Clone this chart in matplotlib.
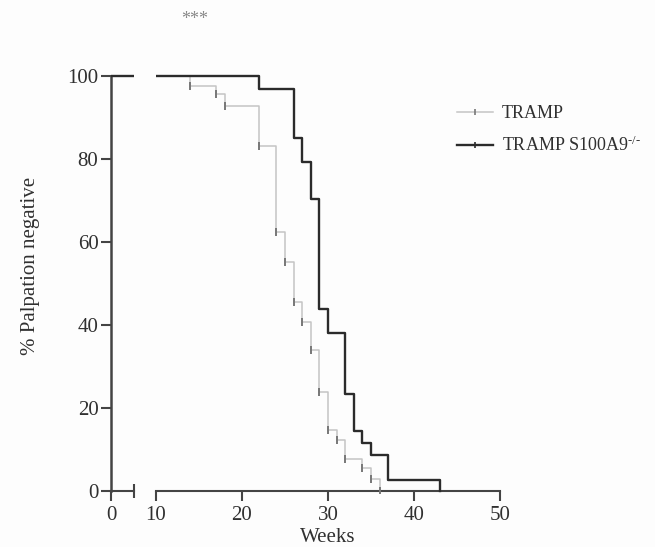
import numpy as np
import matplotlib
matplotlib.use('Agg')
import matplotlib.pyplot as plt
from matplotlib.lines import Line2D

# Kaplan-Meier style steps (weeks, % palpation negative)
tramp_weeks = [14, 17, 18, 22, 24, 25, 26, 27, 28, 29, 30, 31, 32, 34, 35, 36]
tramp_pct = [97.6, 95.7, 92.8, 83.1, 62.4, 55.2, 45.5, 40.7, 34.0, 23.9,
             14.7, 12.3, 7.7, 5.5, 2.9, 0]
ko_weeks = [22, 26, 27, 28, 29, 30, 32, 33, 34, 35, 37, 43]
ko_pct = [96.9, 85.1, 79.3, 70.4, 43.9, 38.1, 23.4, 14.5, 11.6, 8.7, 2.7, 0]

yticks = [0, 20, 40, 60, 80, 100]
xticks_right = [10, 20, 30, 40, 50]

plt.rcParams['font.family'] = 'Liberation Serif'
plt.rcParams['mathtext.fontset'] = 'custom'
plt.rcParams['mathtext.rm'] = 'Liberation Serif'
plt.rcParams['mathtext.it'] = 'Liberation Serif'

light = '#c4c4c4'
dark = '#2b2b2b'
axc = '#444444'
txt = '#303030'

W, H = 655, 547
# 0 -> y=491 px, 100 -> y=76 px; small padding in data units around it
y0, y1 = -0.6, 101
ppu = (491 - 76) / 100.0
bot_px = 491 + (0 - y0) * ppu
top_px = 76 - (y1 - 100) * ppu

fig = plt.figure(figsize=(W / 100, H / 100), dpi=100)
fig.patch.set_facecolor('#fdfdfd')

ax_l = fig.add_axes([111 / W, 1 - bot_px / H, 23 / W, (bot_px - top_px) / H])
ax_r = fig.add_axes([156 / W, 1 - bot_px / H, 344 / W, (bot_px - top_px) / H])

tx = [0] + tramp_weeks
ty = [100] + tramp_pct
kx = [0] + ko_weeks
ky = [100] + ko_pct

for ax in (ax_l, ax_r):
    ax.set_facecolor('none')
    ax.plot(tx, ty, drawstyle='steps-post', color=light, lw=1.1, zorder=2)
    ax.plot(kx, ky, drawstyle='steps-post', color=dark, lw=1.7, zorder=3)
    ax.plot(tramp_weeks, tramp_pct, ls='none', marker='|', ms=6, mew=1.4,
            color='#777777', zorder=4)
    ax.set_ylim(y0, y1)
    ax.spines['top'].set_visible(False)
    ax.spines['right'].set_visible(False)
    ax.spines['bottom'].set_position(('data', 0))
    ax.spines['bottom'].set_color(axc)
    ax.spines['bottom'].set_linewidth(1.5)
    ax.tick_params(axis='x', direction='out', length=7, width=1.5,
                   color=axc, labelsize=15, labelcolor=txt, pad=4)
    ax.tick_params(axis='x', which='minor', direction='inout', length=10,
                   width=1.5, color=axc)

# left segment of the broken x axis
ax_l.set_xlim(0, 2.7)
ax_l.set_xticks([0])
ax_l.set_xticks([2.7], minor=True)
ax_l.spines['left'].set_bounds(0, 100)
ax_l.spines['left'].set_color(axc)
ax_l.spines['left'].set_linewidth(1.8)
ax_l.set_yticks(yticks)
ax_l.tick_params(axis='y', direction='out', length=7, width=1.5,
                 color=axc, labelsize=15, labelcolor=txt, pad=2)

# right segment
ax_r.set_xlim(10, 50)
ax_r.set_xticks(xticks_right)
ax_r.set_xticks([10], minor=True)
ax_r.spines['left'].set_visible(False)
ax_r.set_yticks([])
ax_r.set_xlabel('Weeks', fontsize=15, color=txt, labelpad=2)

fig.text(31 / W, 1 - 266 / H, '% Palpation negative', rotation=90,
         ha='center', va='center', fontsize=15, color=txt)

handles = [
    Line2D([], [], color=light, lw=1.1, marker='|', ms=5, mew=1.2,
           mec='#777777'),
    Line2D([], [], color=dark, lw=1.7, marker='|', ms=5, mew=1.2,
           mec=dark),
]
labels = ['TRAMP', 'TRAMP S100A9$^{\u2010/\u2010}$']
fig.legend(handles, labels, loc='upper left',
           bbox_to_anchor=(457 / W, 1 - 105 / H), frameon=False,
           fontsize=13, labelcolor=txt, handlelength=2.0,
           handletextpad=0.5, labelspacing=0.75, borderpad=0,
           borderaxespad=0, numpoints=1)

fig.text(195 / W, 1 - 19 / H, '***', ha='center', va='center',
         fontsize=13, color='#888888')

fig.savefig('out.png', dpi=100, facecolor=fig.get_facecolor())
